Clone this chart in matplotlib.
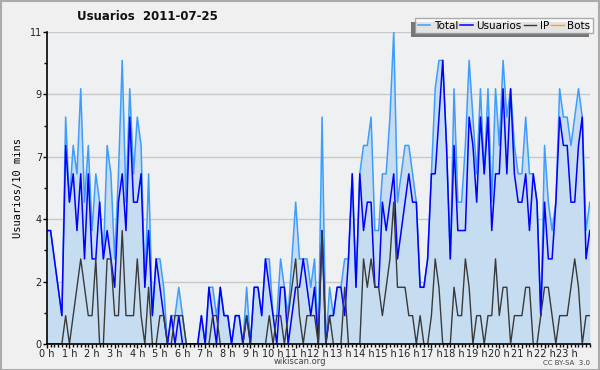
import numpy as np
import matplotlib
matplotlib.use("Agg")
import matplotlib.pyplot as plt
import matplotlib.patheffects as pe

# users per 10 minutes, 2011-07-25 (145 samples, 0 h .. 24 h)
total = [4, 4, 3, 2, 1, 8, 5, 7, 6, 9, 5, 7, 4, 6, 5, 3, 7, 6, 3, 6,
         10, 5, 9, 6, 8, 7, 2, 6, 1, 3, 3, 2, 0, 1, 1, 2, 1, 0, 0, 0,
         0, 1, 0, 2, 2, 1, 2, 1, 1, 0, 1, 1, 0, 2, 0, 2, 2, 1, 3, 3,
         1, 1, 3, 2, 1, 3, 5, 3, 3, 3, 2, 3, 0, 8, 0, 2, 1, 2, 2, 3,
         3, 6, 2, 6, 7, 7, 8, 4, 4, 6, 6, 8, 11, 5, 6, 7, 7, 6, 5, 2,
         2, 3, 6, 9, 10, 10, 7, 3, 9, 5, 5, 7, 10, 8, 6, 9, 6, 9, 5, 9,
         7, 10, 8, 9, 7, 6, 6, 8, 6, 6, 5, 1, 7, 5, 4, 5, 9, 8, 8, 7,
         8, 9, 8, 4, 5]
usuarios = [4, 4, 3, 2, 1, 7, 5, 6, 4, 6, 3, 6, 3, 3, 5, 3, 4, 3, 2, 5,
            6, 4, 8, 5, 5, 6, 2, 4, 1, 3, 2, 1, 0, 1, 0, 1, 0, 0, 0, 0,
            0, 1, 0, 2, 1, 0, 2, 1, 1, 0, 1, 1, 0, 1, 0, 2, 2, 1, 3, 2,
            1, 0, 2, 2, 0, 1, 2, 2, 3, 2, 1, 2, 0, 4, 0, 1, 1, 2, 2, 1,
            3, 6, 2, 6, 4, 5, 5, 2, 2, 5, 4, 5, 6, 3, 4, 5, 6, 5, 5, 2,
            2, 3, 6, 6, 8, 10, 7, 3, 7, 4, 4, 4, 8, 7, 5, 8, 6, 8, 4, 6,
            6, 9, 6, 9, 6, 5, 5, 6, 4, 6, 5, 1, 5, 3, 3, 5, 8, 7, 7, 5,
            5, 7, 8, 3, 4]
ip = [0, 0, 0, 0, 0, 1, 0, 1, 2, 3, 2, 1, 1, 3, 0, 0, 3, 3, 1, 1,
      4, 1, 1, 1, 3, 1, 0, 2, 0, 0, 1, 1, 0, 0, 1, 1, 1, 0, 0, 0,
      0, 0, 0, 0, 1, 1, 0, 0, 0, 0, 0, 0, 0, 1, 0, 0, 0, 0, 0, 1,
      0, 1, 1, 0, 1, 2, 3, 1, 0, 1, 1, 1, 0, 4, 0, 1, 0, 0, 0, 2,
      0, 0, 0, 0, 3, 2, 3, 2, 2, 1, 2, 3, 5, 2, 2, 2, 1, 1, 0, 1,
      0, 0, 1, 3, 2, 0, 0, 0, 2, 1, 1, 3, 2, 0, 1, 1, 0, 1, 1, 3,
      1, 2, 2, 0, 1, 1, 1, 2, 2, 0, 0, 1, 2, 2, 1, 0, 1, 1, 1, 2,
      3, 2, 0, 1, 1]
bots = [0] * 145

hours = np.arange(len(total)) / 6.0
hour_labels = ["%d h" % h for h in range(24)]
y_ticks = np.linspace(0, 11, 6)
y_labels = ["0", "2", "4", "7", "9", "11"]

fig = plt.figure(figsize=(6, 3.7), dpi=100, facecolor="#f0f0f0")
ax = fig.add_axes([0.078, 0.0703, 0.905, 0.8432])
ax.set_facecolor("#eef0f2")

ax.plot(hours, bots, color="#ffa500", lw=1, zorder=1, label="Bots")
ax.fill_between(hours, 0, total, color="#c6ddf1", lw=0, zorder=1.5)
ax.plot(hours, total, color="#3d9dff", lw=1.1, zorder=3, label="Total")
ax.plot(hours, usuarios, color="#0000ff", lw=1.1, zorder=4, label="Usuarios")
ax.plot(hours, ip, color="#3a3a3a", lw=1.0, zorder=5, label="IP")

ax.set_xlim(0, 24)
ax.set_ylim(0, 11)
ax.set_xticks(range(24))
ax.set_xticklabels(hour_labels, fontsize=7)
ax.set_xticks(hours, minor=True)
ax.set_yticks(y_ticks)
ax.set_yticklabels(y_labels, fontsize=7)
ax.set_yticks(y_ticks[:-1] + 1.1, minor=True)
ax.tick_params(axis="both", which="major", direction="out", length=3,
               width=1, pad=0.5, colors="black", labelcolor="#222222")
ax.tick_params(axis="both", which="minor", direction="out", length=2, width=1)
ax.grid(axis="y", color="#c8c8c8", lw=1, zorder=0)
ax.set_axisbelow(True)
for s in ["top", "right"]:
    ax.spines[s].set_visible(False)
for s in ["left", "bottom"]:
    ax.spines[s].set_linewidth(1.2)
    ax.spines[s].set_zorder(6)

ax.set_ylabel("Usuarios/10 mins", family="DejaVu Sans Mono", fontsize=7.5, labelpad=5)

handles, labels = ax.get_legend_handles_labels()
order = [1, 2, 3, 0]
leg = ax.legend([handles[i] for i in order], [labels[i] for i in order],
                ncol=4, loc="upper right", bbox_to_anchor=(1.006, 1.045),
                fontsize=7.5, frameon=True, fancybox=False, shadow=False,
                handlelength=1.2, handletextpad=0.35, columnspacing=0.2,
                borderpad=0.25, borderaxespad=0)
leg.get_frame().set_edgecolor("#999999")
leg.get_frame().set_facecolor("white")
leg.get_frame().set_linewidth(1)
leg.get_frame().set_path_effects([pe.SimplePatchShadow(offset=(-3, -3), shadow_rgbFace="#777777", alpha=1), pe.Normal()])

fig.text(0.245, 0.955, "Usuarios  2011-07-25", fontsize=8.5, fontweight="bold",
         ha="center", va="center", color="#111111")
fig.text(0.5, 0.022, "wikiscan.org", fontsize=6, ha="center", va="center", color="#444444")
fig.text(0.983, 0.02, "CC BY-SA  3.0", fontsize=5, ha="right", va="center", color="#444444")

border = plt.Rectangle((0.001, 0.001), 0.998, 0.997, transform=fig.transFigure,
                       fill=False, edgecolor="#aaaaaa", lw=1.5)
fig.patches.append(border)

fig.savefig("out.png", dpi=100, facecolor=fig.get_facecolor())
